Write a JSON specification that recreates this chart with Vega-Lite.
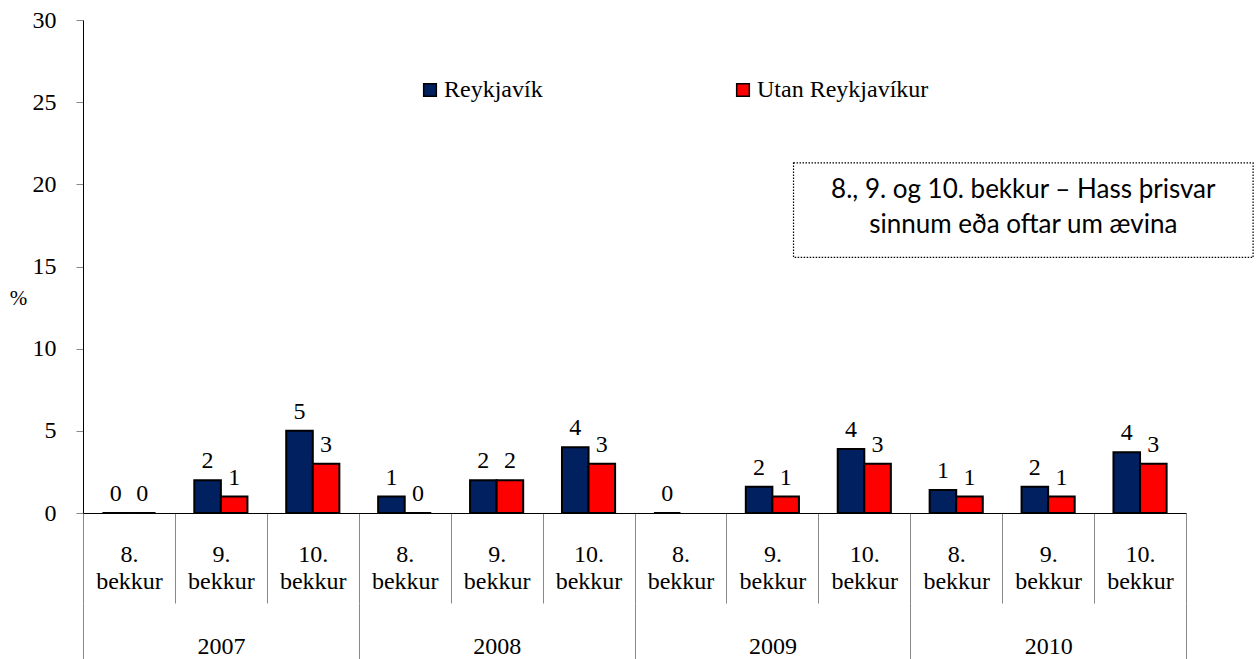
{
  "$schema": "https://vega.github.io/schema/vega-lite/v6.json",
  "width": 1103,
  "height": 493,
  "autosize": {"type": "none"},
  "padding": {"left": 83, "top": 20, "right": 72, "bottom": 146},
  "config": {
    "view": {"stroke": null},
    "font": "Liberation Serif",
    "axis": {"labelFont": "Liberation Serif", "titleFont": "Liberation Serif", "labelColor": "black", "titleColor": "black", "grid": false},
    "legend": {"labelFont": "Liberation Serif"}
  },
  "data": {
    "values": [
      {"cat": "2007|8", "year": "2007", "series": "Reykjavík", "value": 0},
      {"cat": "2007|8", "year": "2007", "series": "Utan Reykjavíkur", "value": 0},
      {"cat": "2007|9", "year": "2007", "series": "Reykjavík", "value": 2.0},
      {"cat": "2007|9", "year": "2007", "series": "Utan Reykjavíkur", "value": 1.0},
      {"cat": "2007|10", "year": "2007", "series": "Reykjavík", "value": 5.0},
      {"cat": "2007|10", "year": "2007", "series": "Utan Reykjavíkur", "value": 3.0},
      {"cat": "2008|8", "year": "2008", "series": "Reykjavík", "value": 1.0},
      {"cat": "2008|8", "year": "2008", "series": "Utan Reykjavíkur", "value": 0},
      {"cat": "2008|9", "year": "2008", "series": "Reykjavík", "value": 2.0},
      {"cat": "2008|9", "year": "2008", "series": "Utan Reykjavíkur", "value": 2.0},
      {"cat": "2008|10", "year": "2008", "series": "Reykjavík", "value": 4.0},
      {"cat": "2008|10", "year": "2008", "series": "Utan Reykjavíkur", "value": 3.0},
      {"cat": "2009|8", "year": "2009", "series": "Reykjavík", "value": 0},
      {"cat": "2009|9", "year": "2009", "series": "Reykjavík", "value": 1.6},
      {"cat": "2009|9", "year": "2009", "series": "Utan Reykjavíkur", "value": 1.0},
      {"cat": "2009|10", "year": "2009", "series": "Reykjavík", "value": 3.9},
      {"cat": "2009|10", "year": "2009", "series": "Utan Reykjavíkur", "value": 3.0},
      {"cat": "2010|8", "year": "2010", "series": "Reykjavík", "value": 1.4},
      {"cat": "2010|8", "year": "2010", "series": "Utan Reykjavíkur", "value": 1.0},
      {"cat": "2010|9", "year": "2010", "series": "Reykjavík", "value": 1.6},
      {"cat": "2010|9", "year": "2010", "series": "Utan Reykjavíkur", "value": 1.0},
      {"cat": "2010|10", "year": "2010", "series": "Reykjavík", "value": 3.7},
      {"cat": "2010|10", "year": "2010", "series": "Utan Reykjavíkur", "value": 3.0}
    ]
  },
  "resolve": {"scale": {"x": "independent"}, "axis": {"x": "independent"}},
  "layer": [
    {
      "mark": {"type": "bar", "stroke": "black", "strokeWidth": 2},
      "encoding": {
        "x": {
          "field": "cat", "type": "nominal", "sort": null,
          "scale": {"paddingInner": 0, "paddingOuter": 0},
          "axis": {
            "orient": "bottom", "title": null, "domainColor": "black", "domainWidth": 1,
            "tickBand": "extent", "tickSize": 90, "tickColor": "#888", "tickWidth": 1,
            "labelAngle": 0, "labelAlign": "center", "labelBaseline": "top",
            "labelExpr": "isValid(datum.value) ? [split(datum.value, '|')[1] + '.', 'bekkur'] : ''",
            "labelFont": "Liberation Serif",
            "labelFontSize": 24, "labelLineHeight": 27, "labelPadding": -61
          }
        },
        "xOffset": {
          "field": "series", "type": "nominal", "sort": ["Reykjavík", "Utan Reykjavíkur"],
          "scale": {"paddingInner": 0, "paddingOuter": 0.73}
        },
        "y": {
          "field": "value", "type": "quantitative", "title": "%",
          "scale": {"domain": [0, 30], "nice": false},
          "axis": {
            "values": [0, 5, 10, 15, 20, 25, 30],
            "title": "%", "titleAngle": 0, "titleX": -65, "titleY": 278,
            "titleAlign": "center", "titleBaseline": "middle",
            "titleFont": "Liberation Serif",
            "titleFontSize": 21, "titleFontWeight": "normal",
            "tickSize": 7, "tickColor": "#888", "domainColor": "black",
            "labelFont": "Liberation Serif",
            "labelFontSize": 24, "labelPadding": 20
          }
        },
        "color": {
          "field": "series", "type": "nominal",
          "scale": {"domain": ["Reykjavík", "Utan Reykjavíkur"], "range": ["#002060", "#FF0000"]},
          "legend": {
            "title": null, "orient": "none", "legendX": 335, "legendY": 58,
            "direction": "horizontal", "columns": 2, "columnPadding": 188,
            "symbolType": "square", "symbolSize": 160, "symbolStrokeColor": "black",
            "symbolStrokeWidth": 1.5, "symbolOpacity": 1, "labelLimit": 400,
            "labelFont": "Liberation Serif", "labelFontSize": 24, "labelColor": "black", "labelOffset": 2
          }
        }
      }
    },
    {
      "mark": {"type": "text", "baseline": "bottom", "dy": -7, "font": "Liberation Serif", "fontSize": 24, "color": "black"},
      "encoding": {
        "x": {"field": "cat", "type": "nominal", "sort": null, "scale": {"paddingInner": 0, "paddingOuter": 0}, "axis": null},
        "xOffset": {"field": "series", "type": "nominal", "sort": ["Reykjavík", "Utan Reykjavíkur"], "scale": {"paddingInner": 0, "paddingOuter": 0.73}},
        "y": {"field": "value", "type": "quantitative", "title": "%"},
        "text": {"field": "value", "type": "quantitative", "format": ".0f"}
      }
    },
    {
      "mark": {"type": "point", "opacity": 0},
      "encoding": {
        "x": {
          "field": "year", "type": "nominal",
          "scale": {"paddingInner": 0, "paddingOuter": 0},
          "axis": {
            "orient": "bottom", "offset": 90, "title": null, "domain": false,
            "tickBand": "extent", "tickSize": 56, "tickColor": "#888", "tickWidth": 1,
            "labelAngle": 0, "labelBaseline": "top",
            "labelFont": "Liberation Serif", "labelFontSize": 24, "labelPadding": -25
          }
        },
        "y": {"datum": 0}
      }
    },
    {
      "data": {"values": [{"note": "box"}]},
      "mark": {"type": "rect", "fill": "white", "fillOpacity": 0, "stroke": "black", "strokeDash": [1.5, 1.5], "strokeWidth": 1.2},
      "encoding": {
        "x": {"datum": 7.73, "type": "quantitative", "scale": {"domain": [0, 12], "nice": false, "zero": false}, "axis": null},
        "x2": {"datum": 12.73},
        "y": {"datum": 21.3},
        "y2": {"datum": 15.55}
      }
    },
    {
      "data": {"values": [{"note": "text"}]},
      "mark": {
        "type": "text", "font": "Lato", "fontSize": 26, "lineHeight": 35,
        "align": "center", "baseline": "middle", "color": "black",
        "text": ["8., 9. og 10. bekkur – Hass þrisvar", "sinnum eða oftar um ævina"]
      },
      "encoding": {
        "x": {"datum": 10.23, "type": "quantitative", "scale": {"domain": [0, 12], "nice": false, "zero": false}, "axis": null},
        "y": {"datum": 19.66}
      }
    }
  ]
}
